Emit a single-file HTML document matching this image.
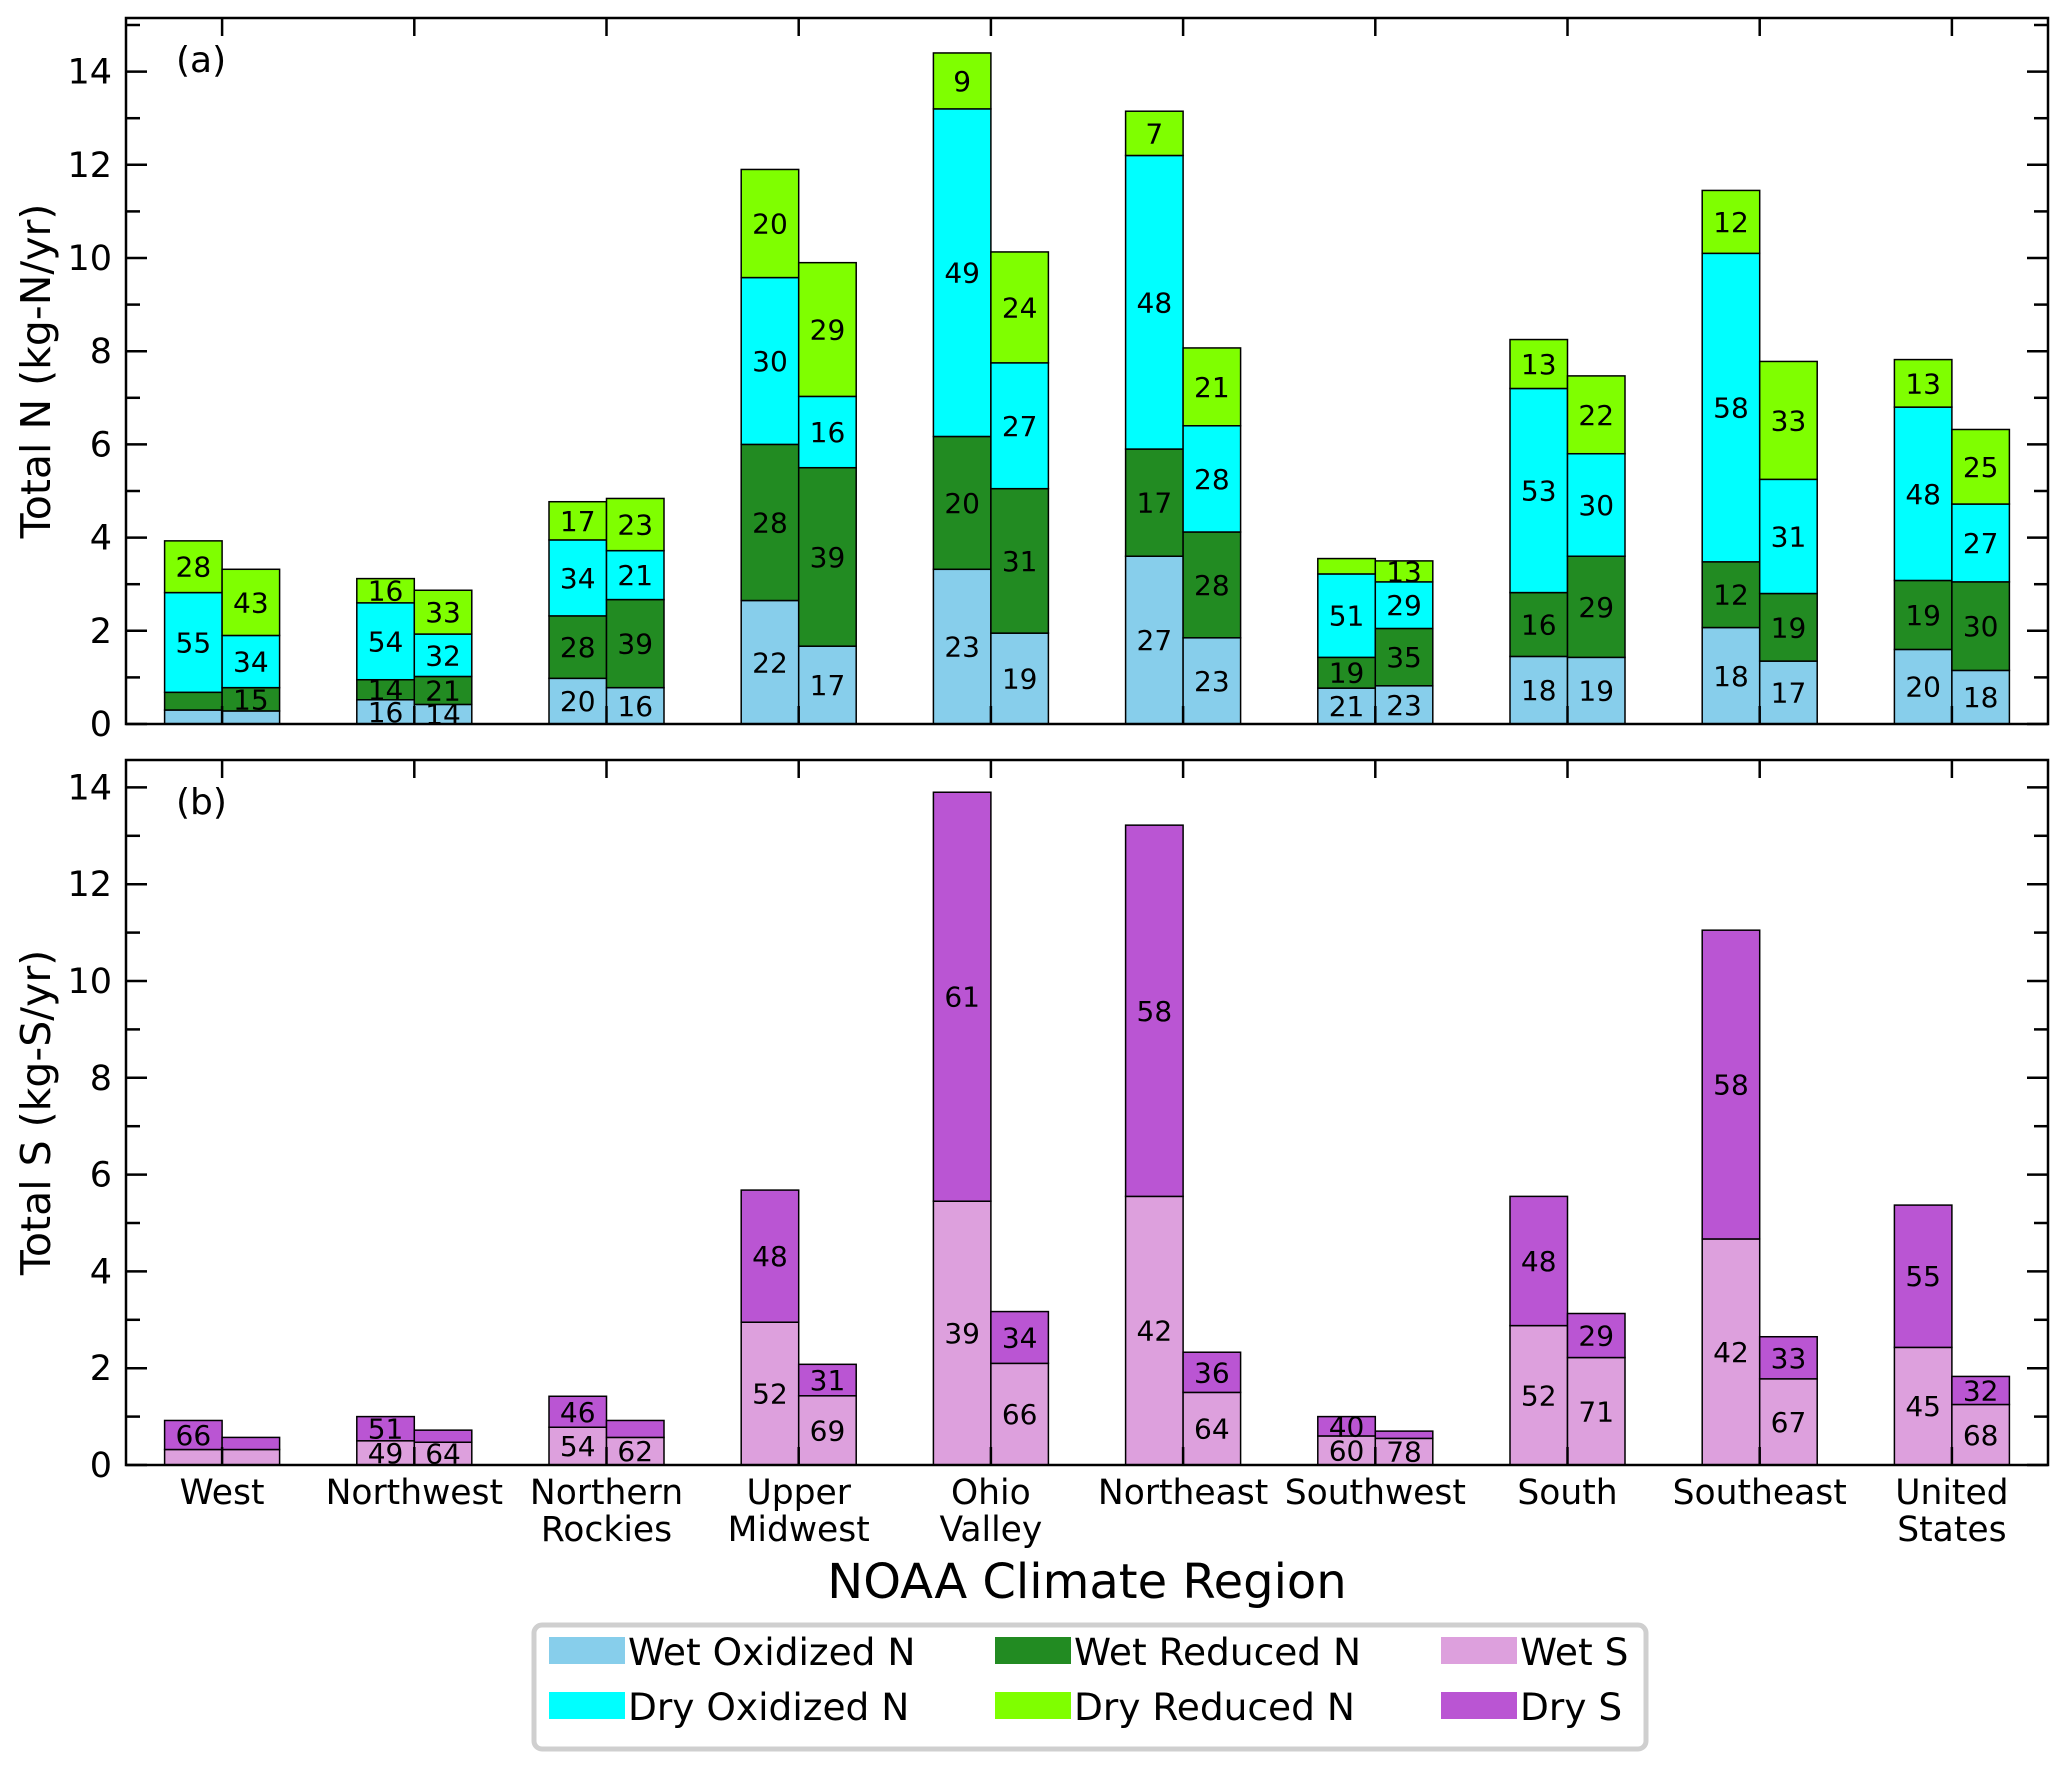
<!DOCTYPE html>
<html><head><meta charset="utf-8"><style>
html,body{margin:0;padding:0;background:#fff;}
svg{display:block;font-family:"DejaVu Sans","Liberation Sans",sans-serif;}
</style></head><body>
<svg id="chart" width="2067" height="1765" viewBox="0 0 2067 1765" xmlns="http://www.w3.org/2000/svg"></svg>
<script>
const regions = [["West"],["Northwest"],["Northern","Rockies"],["Upper","Midwest"],["Ohio","Valley"],["Northeast"],["Southwest"],["South"],["Southeast"],["United","States"]];
const yTicks = [0,2,4,6,8,10,12,14];
// Panel (a) segment values (kg-N/yr), left and right bars
const wetOxL  = [0.30,0.52,0.98,2.65,3.32,3.60,0.77,1.45,2.07,1.60];
const wetRedL = [0.38,0.43,1.34,3.35,2.85,2.30,0.66,1.37,1.41,1.48];
const dryOxL  = [2.14,1.65,1.63,3.58,7.03,6.30,1.79,4.38,6.62,3.72];
const dryRedL = [1.11,0.52,0.82,2.32,1.20,0.95,0.33,1.05,1.35,1.02];
const wetOxR  = [0.28,0.42,0.78,1.67,1.95,1.85,0.82,1.43,1.35,1.15];
const wetRedR = [0.50,0.60,1.89,3.83,3.10,2.27,1.23,2.17,1.45,1.90];
const dryOxR  = [1.12,0.91,1.05,1.53,2.70,2.28,1.00,2.20,2.45,1.67];
const dryRedR = [1.42,0.94,1.12,2.87,2.38,1.67,0.45,1.67,2.53,1.60];
// Panel (a) percent labels
const wetOxLLab  = [null,16,20,22,23,27,21,18,18,20];
const wetRedLLab = [null,14,28,28,20,17,19,16,12,19];
const dryOxLLab  = [55,54,34,30,49,48,51,53,58,48];
const dryRedLLab = [28,16,17,20,9,7,null,13,12,13];
const wetOxRLab  = [null,14,16,17,19,23,23,19,17,18];
const wetRedRLab = [15,21,39,39,31,28,35,29,19,30];
const dryOxRLab  = [34,32,21,16,27,28,29,30,31,27];
const dryRedRLab = [43,33,23,29,24,21,13,22,33,25];
// Panel (b) segment values (kg-S/yr)
const wetSL = [0.32,0.50,0.78,2.95,5.45,5.55,0.60,2.88,4.67,2.43];
const drySL = [0.60,0.50,0.64,2.73,8.45,7.67,0.40,2.67,6.38,2.94];
const wetSR = [0.32,0.47,0.57,1.43,2.10,1.50,0.55,2.22,1.78,1.25];
const drySR = [0.25,0.25,0.35,0.65,1.07,0.83,0.15,0.91,0.87,0.58];
const wetSLLab = [null,49,54,52,39,42,60,52,42,45];
const drySLLab = [66,51,46,48,61,58,40,48,58,55];
const wetSRLab = [null,64,62,69,66,64,78,71,67,68];
const drySRLab = [null,null,null,31,34,36,null,29,33,32];

const C = {wetOx:"#87ceeb", wetRed:"#228b22", dryOx:"#00ffff", dryRed:"#7fff00", wetS:"#dda0dd", dryS:"#ba55d3"};
const svg = document.getElementById('chart');
const NS = "http://www.w3.org/2000/svg";
function mk(tag, attrs, parent){const e=document.createElementNS(NS,tag);for(const k in attrs)e.setAttribute(k,attrs[k]);(parent||svg).appendChild(e);return e;}

const X0=126, X1=2048, groupW=(X1-X0)/10, barW=57.5;
function xCenter(i){return X0+groupW*(i+0.5);}
const panels=[{top:18,bottom:724,ppu:46.6,name:"panel-a",label:"(a)",ytitle:"Total N (kg-N/yr)"},{top:760,bottom:1465,ppu:48.4,name:"panel-b",label:"(b)",ytitle:"Total S (kg-S/yr)"}];
function yS(p,v){return p.bottom - v*p.ppu;}

function drawStack(p,i,side,vals,cols,labs,nm){
  let base=0;
  const x = side<0 ? xCenter(i)-barW : xCenter(i);
  for(let k=0;k<vals.length;k++){
    const v=vals[k][i];
    const yTop=yS(p,base+v), yBot=yS(p,base);
    const r=mk('rect',{x:x,y:yTop,width:barW,height:yBot-yTop,fill:cols[k],stroke:"#000","stroke-width":1.5});
    
    
    const lab=labs[k][i];
    if(lab!==null){
      const t=mk('text',{x:x+barW/2,y:(yTop+yBot)/2+10,"font-size":28,"text-anchor":"middle",fill:"#000"});
      t.textContent=lab;
      
      
    }
    base+=v;
  }
}

panels.forEach((p,pi)=>{
  const g=mk('g',{});
  
  
  for(let i=0;i<10;i++){
    if(pi===0){
      drawStack(p,i,-1,[wetOxL,wetRedL,dryOxL,dryRedL],[C.wetOx,C.wetRed,C.dryOx,C.dryRed],[wetOxLLab,wetRedLLab,dryOxLLab,dryRedLLab],["wet-oxidized-n","wet-reduced-n","dry-oxidized-n","dry-reduced-n"]);
      drawStack(p,i,1,[wetOxR,wetRedR,dryOxR,dryRedR],[C.wetOx,C.wetRed,C.dryOx,C.dryRed],[wetOxRLab,wetRedRLab,dryOxRLab,dryRedRLab],["wet-oxidized-n","wet-reduced-n","dry-oxidized-n","dry-reduced-n"]);
    } else {
      drawStack(p,i,-1,[wetSL,drySL],[C.wetS,C.dryS],[wetSLLab,drySLLab],["wet-s","dry-s"]);
      drawStack(p,i,1,[wetSR,drySR],[C.wetS,C.dryS],[wetSRLab,drySRLab],["wet-s","dry-s"]);
    }
  }
  const f=mk('rect',{x:X0,y:p.top,width:X1-X0,height:p.bottom-p.top,fill:"none",stroke:"#000","stroke-width":2.5});
  
  
  for(let v=0;v<=15;v++){
    const y=yS(p,v); if(y<p.top) break;
    const len = v%2===0?21:14;
    mk('line',{x1:X0,x2:X0+len,y1:y,y2:y,stroke:"#000","stroke-width":2.5});
    mk('line',{x1:X1-len,x2:X1,y1:y,y2:y,stroke:"#000","stroke-width":2.5});
  }
  yTicks.forEach(v=>{
    const t=mk('text',{x:112,y:yS(p,v)+12,"font-size":35,"text-anchor":"end"});
    t.textContent=v;
    
    
  });
  for(let i=0;i<10;i++){
    mk('line',{x1:xCenter(i),x2:xCenter(i),y1:p.top,y2:p.top+18,stroke:"#000","stroke-width":2.5});
    mk('line',{x1:xCenter(i),x2:xCenter(i),y1:p.bottom-18,y2:p.bottom,stroke:"#000","stroke-width":2.5});
  }
  const pl=mk('text',{x:176,y:p.top+54,"font-size":36});
  pl.textContent=p.label;
  
  
  const yt=mk('text',{x:0,y:0,"font-size":41,"text-anchor":"middle",transform:`translate(50,${(p.top+p.bottom)/2}) rotate(-90)`});
  yt.textContent=p.ytitle;
  
  
});

regions.forEach((r,i)=>{
  r.forEach((line,j)=>{
    const t=mk('text',{x:xCenter(i),y:1504+j*37,"font-size":34.5,"text-anchor":"middle"});
    t.textContent=line;
    
    
  });
});
const xt=mk('text',{x:1087,y:1598,"font-size":48,"text-anchor":"middle"});
xt.textContent="NOAA Climate Region";



const lg=mk('g',{});


mk('rect',{x:534,y:1625,width:1112,height:124,rx:8,fill:"#fff",stroke:"#cfcfcf","stroke-width":5},lg);
const legendItems=[["Wet Oxidized N",C.wetOx,549,1637],["Wet Reduced N",C.wetRed,995,1637],["Wet S",C.wetS,1441,1637],["Dry Oxidized N",C.dryOx,549,1692],["Dry Reduced N",C.dryRed,995,1692],["Dry S",C.dryS,1441,1692]];
legendItems.forEach(it=>{
  const r=mk('rect',{x:it[2],y:it[3],width:76,height:27,fill:it[1]},lg);
  
  
  const t=mk('text',{x:it[2]+79,y:it[3]+28,"font-size":37.5},lg);
  t.textContent=it[0];
  
  
});
</script>
</body></html>
